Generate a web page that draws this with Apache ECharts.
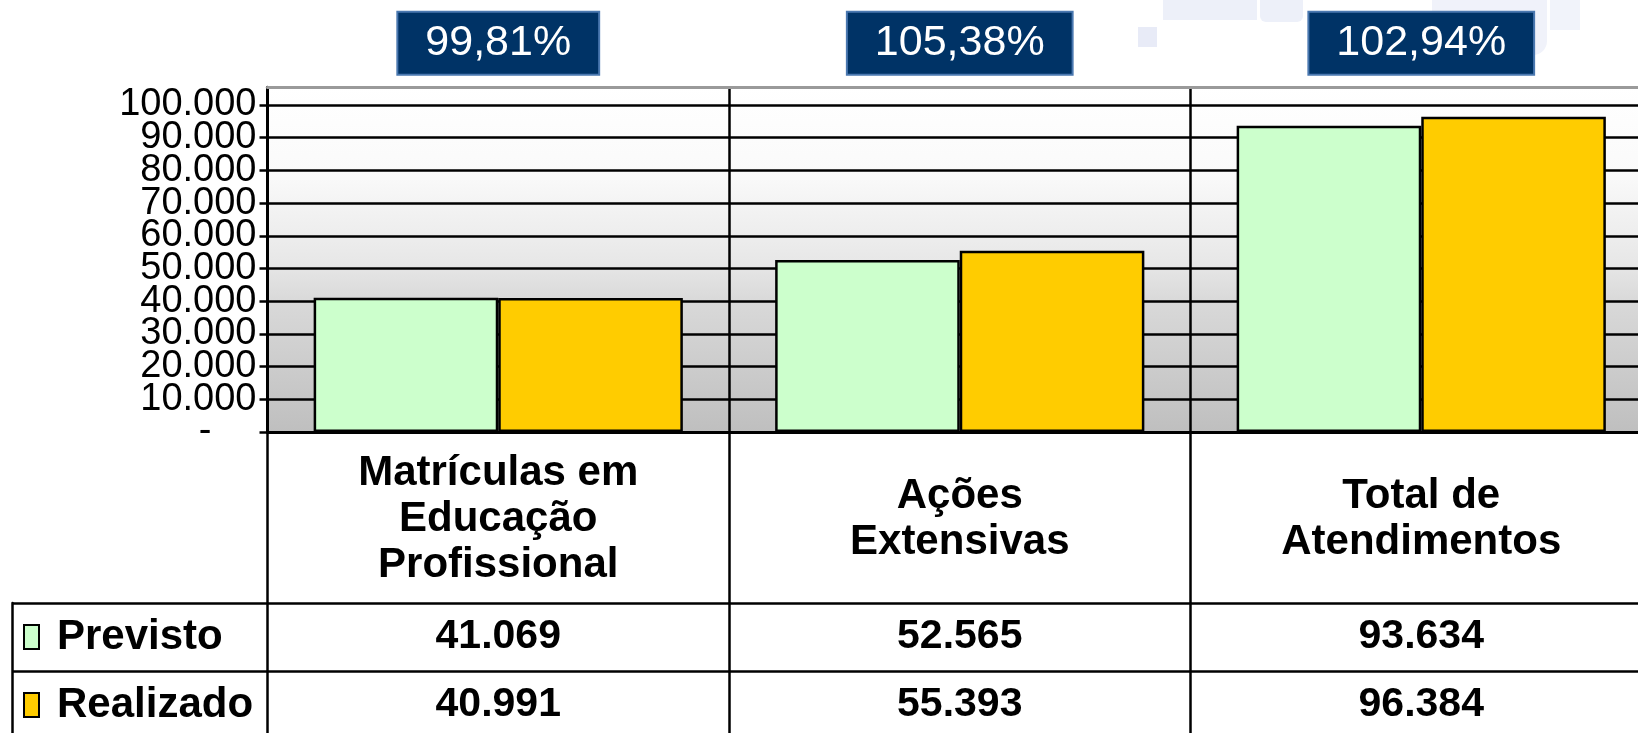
<!DOCTYPE html>
<html>
<head>
<meta charset="utf-8">
<script src="https://cdn.jsdelivr.net/npm/echarts@6/dist/echarts.min.js"></script>
<style>
html,body{margin:0;padding:0;background:#fff;}
#c{width:1638px;height:733px;}
</style>
</head>
<body>
<div id="c"></div>
<script>
const categories = ['Matrículas em\nEducação\nProfissional', 'Ações\nExtensivas', 'Total de\nAtendimentos'];
const previsto = [41069, 52565, 93634];
const realizado = [40991, 55393, 96384];
const pctLabels = ['99,81%', '105,38%', '102,94%'];
const seriesNames = ['Previsto', 'Realizado'];
const yTicks = [0, 10000, 20000, 30000, 40000, 50000, 60000, 70000, 80000, 90000, 100000];

const FONT = '"Liberation Sans", Arial, Helvetica, sans-serif';
const fmt = v => String(v).replace(/\B(?=(\d{3})+(?!\d))/g, '.');

// layout
const PLOT_LEFT = 267.5, PLOT_TOP = 87.3, PLOT_W = 1384.5, PLOT_H = 344.7;
const Y_MAX = 105400;
const TICK_TOP = PLOT_TOP + PLOT_H * (1 - yTicks[yTicks.length - 1] / Y_MAX);
const TICK_H = PLOT_TOP + PLOT_H - TICK_TOP;

const chart = echarts.init(document.getElementById('c'), null, {renderer: 'canvas'});

const option = {
  backgroundColor: '#ffffff',
  animation: false,
  textStyle: {fontFamily: FONT},
  graphic: [
    {type: 'rect', z: -10, silent: true, shape: {x: 1163, y: 0, width: 94, height: 20}, style: {fill: '#edf0f9'}},
    {type: 'rect', z: -10, silent: true, shape: {x: 1260, y: 0, width: 43, height: 22, r: [0, 0, 6, 6]}, style: {fill: '#edf0f9'}},
    {type: 'rect', z: -10, silent: true, shape: {x: 1138, y: 27, width: 19, height: 20}, style: {fill: '#e8ebf7'}},
    {type: 'rect', z: -10, silent: true, shape: {x: 1432, y: 0, width: 115, height: 55, r: [0, 0, 14, 0]}, style: {fill: '#f0f2fa'}},
    {type: 'rect', z: -10, silent: true, shape: {x: 1550, y: 0, width: 30, height: 30}, style: {fill: '#f1f3fa'}}
  ],
  legend: {
    data: seriesNames,
    orient: 'vertical',
    left: 23,
    top: 616,
    padding: 0,
    itemWidth: 15,
    itemHeight: 24,
    itemGap: 26,
    icon: 'rect',
    selectedMode: false,
    textStyle: {fontFamily: FONT, fontSize: 42, fontWeight: 'bold', color: '#000', lineHeight: 42, padding: [0, 0, 0, 13]}
  },
  grid: [
    {left: PLOT_LEFT, top: PLOT_TOP, width: PLOT_W, height: PLOT_H, show: true, borderWidth: 0,
     outerBoundsMode: 'none', containLabel: false,
     backgroundColor: {type: 'linear', x: 0, y: 0, x2: 0, y2: 1, colorStops: [
       {offset: 0, color: '#ffffff'}, {offset: 0.25, color: '#fafafa'},
       {offset: 0.5, color: '#e8e8e8'}, {offset: 0.62, color: '#d9d9d9'},
       {offset: 1, color: '#bfbfbf'}]}},
    {left: PLOT_LEFT, top: PLOT_TOP, width: PLOT_W, height: 700, outerBoundsMode: 'none', containLabel: false},
    {left: 12, top: 603, width: 1700, height: 136, outerBoundsMode: 'none', containLabel: false},
    {left: PLOT_LEFT, top: TICK_TOP, width: PLOT_W, height: TICK_H, outerBoundsMode: 'none', containLabel: false}
  ],
  xAxis: [
    {type: 'category', gridIndex: 0, data: categories, position: 'bottom',
     axisLine: {show: true, lineStyle: {color: '#000', width: 3}},
     axisTick: {show: false}, splitLine: {show: false},
     axisLabel: {interval: 0, margin: 87, verticalAlign: 'middle', fontFamily: FONT, fontSize: 42,
       fontWeight: 'bold', color: '#000', lineHeight: 46, align: 'center'}},
    {type: 'category', gridIndex: 0, data: categories, position: 'bottom', offset: 205,
     axisLine: {show: false}, axisTick: {show: false}, splitLine: {show: false},
     axisLabel: {interval: 0, margin: 0, verticalAlign: 'middle', fontFamily: FONT, fontSize: 41,
       fontWeight: 'bold', color: '#000', formatter: (v, i) => fmt(previsto[i])}},
    {type: 'category', gridIndex: 0, data: categories, position: 'bottom', offset: 273,
     axisLine: {show: false}, axisTick: {show: false}, splitLine: {show: false},
     axisLabel: {interval: 0, margin: 0, verticalAlign: 'middle', fontFamily: FONT, fontSize: 41,
       fontWeight: 'bold', color: '#000', formatter: (v, i) => fmt(realizado[i])}},
    {type: 'category', gridIndex: 0, data: categories, position: 'top',
     axisLine: {show: true, lineStyle: {color: '#9a9a9a', width: 3}},
     axisTick: {show: false}, splitLine: {show: false},
     axisLabel: {interval: 0, margin: 44, verticalAlign: 'middle', fontFamily: FONT, fontSize: 43,
       color: '#ffffff', backgroundColor: '#003366', borderColor: '#4a78b0', borderWidth: 2,
       padding: [9, 27, 9, 27], formatter: (v, i) => pctLabels[i]}},
    {type: 'category', gridIndex: 1, data: categories, boundaryGap: true,
     axisLine: {show: false}, axisTick: {show: false}, axisLabel: {show: false},
     splitLine: {show: true, interval: 0, lineStyle: {color: '#000', width: 2.5}}},
    {type: 'value', gridIndex: 2, show: false},
    {type: 'value', gridIndex: 3, show: false}
  ],
  yAxis: [
    {type: 'value', gridIndex: 0, min: 0, max: Y_MAX, interval: 10000,
     axisLine: {show: true, lineStyle: {color: '#000', width: 3}},
     axisTick: {show: true, length: 8, customValues: yTicks, lineStyle: {color: '#000', width: 2.5}},
     splitLine: {show: true, lineStyle: {color: '#000', width: 2.5}},
     axisLabel: {show: false}},
    {type: 'value', gridIndex: 1, show: false},
    {type: 'value', gridIndex: 2, min: 0, max: 2, interval: 1, inverse: true,
     axisLine: {show: true, lineStyle: {color: '#000', width: 2.5}},
     axisTick: {show: false}, axisLabel: {show: false},
     splitLine: {show: true, lineStyle: {color: '#000', width: 2.5}}},
    {type: 'category', gridIndex: 3, data: yTicks.map(v => v === 0 ? '{d|-}' : fmt(v)), boundaryGap: false,
     axisLine: {show: false}, axisTick: {show: false}, splitLine: {show: false},
     axisLabel: {interval: 0, margin: 11, fontFamily: FONT, fontSize: 38, color: '#000',
       rich: {d: {fontFamily: FONT, fontSize: 38, color: '#000', padding: [0, 45, 0, 0]}}}}
  ],
  series: [
    {name: seriesNames[0], type: 'bar', xAxisIndex: 0, yAxisIndex: 0, data: previsto,
     barGap: '0%', barCategoryGap: '20%', z: 3,
     itemStyle: {color: '#ccffcc', borderColor: '#000', borderWidth: 2.5}},
    {name: seriesNames[1], type: 'bar', xAxisIndex: 0, yAxisIndex: 0, data: realizado,
     barGap: '0%', barCategoryGap: '20%', z: 3,
     itemStyle: {color: '#ffcc00', borderColor: '#000', borderWidth: 2.5}}
  ]
};
chart.setOption(option);
</script>
</body>
</html>
